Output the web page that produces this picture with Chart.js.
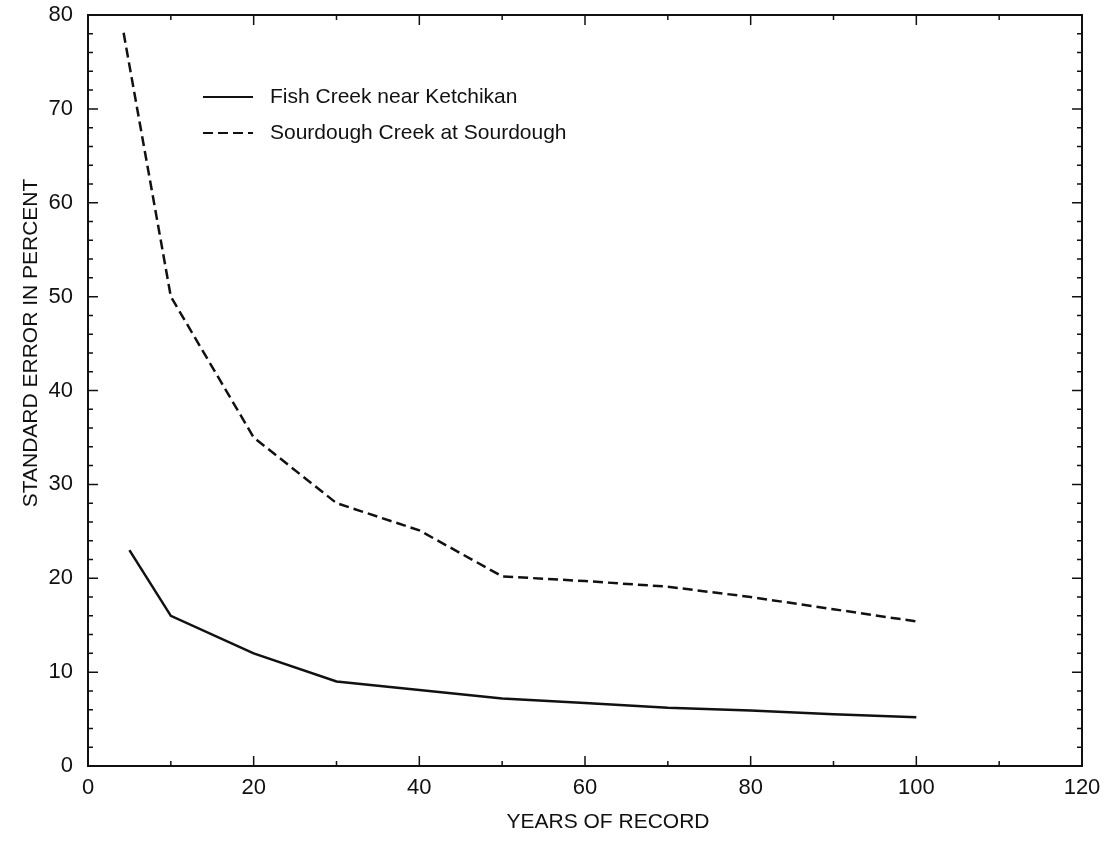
<!DOCTYPE html>
<html><head><meta charset="utf-8">
<script src="https://cdn.jsdelivr.net/npm/chart.js@4.4.1/dist/chart.umd.min.js"></script>
<style>html,body{margin:0;padding:0;background:#fff;}</style>
</head><body>
<canvas id="c" width="1104" height="843"></canvas>
<script>
// ---- data ----
const yearsFish = [5, 10, 20, 30, 40, 50, 60, 70, 80, 90, 100];
const errorFish = [23.0, 16.0, 12.0, 9.0, 8.1, 7.2, 6.7, 6.2, 5.9, 5.5, 5.2];
const yearsSourdough = [4.3, 10, 20, 30, 40, 50, 60, 70, 80, 90, 100];
const errorSourdough = [78.1, 50.0, 35.0, 28.0, 25.1, 20.2, 19.7, 19.1, 18.0, 16.7, 15.4];
const xTicks = [0, 20, 40, 60, 80, 100, 120];
const yTicks = [0, 10, 20, 30, 40, 50, 60, 70, 80];
const seriesNames = ['Fish Creek near Ketchikan', 'Sourdough Creek at Sourdough'];
const xTitle = 'YEARS OF RECORD';
const yTitle = 'STANDARD ERROR IN PERCENT';

const FONT = "'Liberation Sans', Arial, Helvetica, sans-serif";
const INK = '#111';

function pts(xs, ys) { return xs.map((x, i) => ({x: x, y: ys[i]})); }

const frameTicks = {
  id: 'frameTicks',
  afterDraw(chart) {
    const ctx = chart.ctx, a = chart.chartArea;
    const x = chart.scales.x, y = chart.scales.y;
    ctx.save();
    ctx.strokeStyle = INK;
    ctx.lineWidth = 1.5;
    ctx.beginPath();
    // x ticks (bottom + top): major every 20, minor every 10
    for (let v = x.min; v <= x.max; v += 10) {
      const px = x.getPixelForValue(v);
      const len = (v % 20 === 0) ? 10 : 5;
      ctx.moveTo(px, a.bottom); ctx.lineTo(px, a.bottom - len);
      ctx.moveTo(px, a.top); ctx.lineTo(px, a.top + len);
    }
    // y ticks (left + right): major every 10, minor every 2
    for (let v = y.min; v <= y.max; v += 2) {
      const py = y.getPixelForValue(v);
      const len = (v % 10 === 0) ? 10 : 5;
      ctx.moveTo(a.left, py); ctx.lineTo(a.left + len, py);
      ctx.moveTo(a.right, py); ctx.lineTo(a.right - len, py);
    }
    ctx.stroke();

    // legend inside plot
    const legendRows = [97, 133];
    chart.data.datasets.forEach((ds, i) => {
      const ly = legendRows[i];
      ctx.beginPath();
      ctx.setLineDash(ds.borderDash || []);
      ctx.lineWidth = 2;
      ctx.strokeStyle = ds.borderColor;
      ctx.moveTo(203, ly); ctx.lineTo(253, ly);
      ctx.stroke();
      ctx.setLineDash([]);
      ctx.fillStyle = INK;
      ctx.font = '21px ' + FONT;
      ctx.textAlign = 'left';
      ctx.textBaseline = 'middle';
      ctx.fillText(ds.label, 270, ly);
    });

    // axis titles
    ctx.fillStyle = INK;
    ctx.font = '21px ' + FONT;
    ctx.textAlign = 'center';
    ctx.textBaseline = 'middle';
    ctx.fillText(xTitle, 608, 822);
    ctx.save();
    ctx.translate(31, 343);
    ctx.rotate(-Math.PI / 2);
    ctx.fillText(yTitle, 0, 0);
    ctx.restore();
    ctx.restore();
  }
};

const fixedTicks = (arr) => (scale) => { scale.ticks = arr.map(v => ({value: v})); };

new Chart(document.getElementById('c'), {
  type: 'line',
  data: {
    datasets: [
      {
        label: seriesNames[0],
        data: pts(yearsFish, errorFish),
        borderColor: INK, borderWidth: 2.5, pointRadius: 0, tension: 0, fill: false
      },
      {
        label: seriesNames[1],
        data: pts(yearsSourdough, errorSourdough),
        borderColor: INK, borderWidth: 2.5, borderDash: [10, 5], pointRadius: 0, tension: 0, fill: false
      }
    ]
  },
  options: {
    responsive: false,
    animation: false,
    layout: {padding: 0},
    plugins: {legend: {display: false}, tooltip: {enabled: false}},
    scales: {
      x: {
        type: 'linear', position: 'bottom', min: 0, max: 120,
        afterBuildTicks: fixedTicks(xTicks),
        afterFit(s) { s.height = 77; s.paddingLeft = 0; s.paddingRight = 0; },
        grid: {drawOnChartArea: false, drawTicks: false},
        border: {display: true, color: INK, width: 2},
        ticks: {padding: 9, color: INK, font: {family: FONT, size: 22}, maxRotation: 0}
      },
      x2: {
        type: 'linear', position: 'top', min: 0, max: 120,
        afterFit(s) { s.height = 15; s.paddingLeft = 0; s.paddingRight = 0; },
        grid: {drawOnChartArea: false, drawTicks: false},
        border: {display: true, color: INK, width: 2},
        ticks: {display: false}
      },
      y: {
        type: 'linear', position: 'left', min: 0, max: 80,
        afterBuildTicks: fixedTicks(yTicks),
        afterFit(s) { s.width = 88; s.paddingTop = 0; s.paddingBottom = 0; },
        grid: {drawOnChartArea: false, drawTicks: false},
        border: {display: true, color: INK, width: 2},
        ticks: {padding: 15, color: INK, font: {family: FONT, size: 22}}
      },
      y2: {
        type: 'linear', position: 'right', min: 0, max: 80,
        afterFit(s) { s.width = 22; s.paddingTop = 0; s.paddingBottom = 0; },
        grid: {drawOnChartArea: false, drawTicks: false},
        border: {display: true, color: INK, width: 2},
        ticks: {display: false}
      }
    }
  },
  plugins: [frameTicks]
});
</script>
</body></html>
